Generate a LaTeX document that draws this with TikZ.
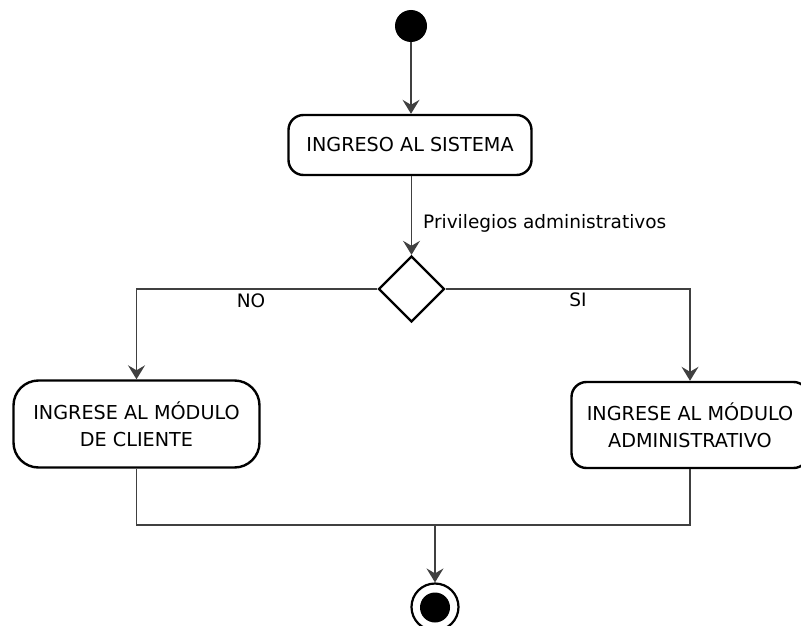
\documentclass[tikz,border=0pt]{standalone}
\usepackage{fontspec}
\setmainfont{DejaVu Sans}
\usetikzlibrary{arrows.meta,shapes.geometric}
\begin{document}
\begin{tikzpicture}[x=1pt,y=-1pt,
  txt/.style={font=\fontsize{18.5}{26}\selectfont, text=black},
  boxtxt/.style={font=\fontsize{19.2}{26.5}\selectfont, text=black},
  actbox/.style={draw=black, line width=2.4pt, fill=white, align=center, inner sep=0pt, boxtxt},
  conn/.style={draw=black!75, line width=1.3pt},
  arr/.style={conn, -{Stealth[length=14pt,width=17pt,inset=5pt]}},
  decbox/.style={draw=black, line width=2.4pt, shape=diamond, aspect=1, minimum width=66pt, minimum height=66pt, inner sep=0pt, fill=white}
]
\useasboundingbox (0,0) rectangle (801,626);
\clip (0,0) rectangle (801,626);

\node[circle, fill=black, minimum size=32pt, inner sep=0pt] (start) at (411,26) {};
\node[actbox, rounded corners=15pt, minimum width=243pt, minimum height=60pt] (sys) at (410,145) {INGRESO AL SISTEMA};
\node[decbox] (dec) at (411.5,289) {};
\node[actbox, rounded corners=25pt, minimum width=246pt, minimum height=87pt] (lbox) at (136.5,424) {INGRESE AL MÓDULO\\DE CLIENTE};
\node[actbox, rounded corners=15pt, minimum width=237pt, minimum height=86pt] (rbox) at (690,425) {INGRESE AL MÓDULO\\ADMINISTRATIVO};
\node[circle, draw=black, line width=2.2pt, minimum size=47pt, inner sep=0pt] (final) at (435,607) {};
\node[circle, fill=black, minimum size=30pt, inner sep=0pt] (finalin) at (435,607.5) {};

\coordinate (m) at (435,525);

\draw[arr] (start) -- (start |- sys.north);
\draw[arr] (sys.south -| dec.north) -- (dec.north);
\draw[arr] (dec.west) -| (lbox.north);
\draw[arr] (dec.east) -| (rbox.north);
\draw[conn] (lbox.south) |- (m) -| (rbox.south);
\draw[arr] (m) -- (final.north);

\node[txt, anchor=west, inner sep=0pt] (lblpriv) at (423,223) {Privilegios administrativos};
\node[txt, inner sep=0pt] (lblno) at (251,301) {NO};
\node[txt, inner sep=0pt] (lblsi) at (578,300) {SI};
\end{tikzpicture}
\end{document}
